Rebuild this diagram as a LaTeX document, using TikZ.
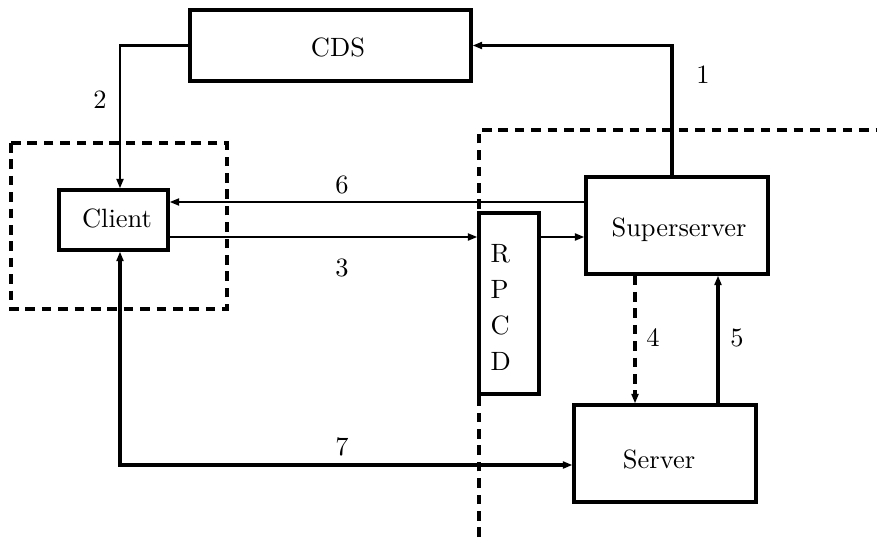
\documentclass[tikz,border=0pt]{standalone}
\usetikzlibrary{arrows.meta,fit}
\begin{document}
\begin{tikzpicture}[x=0.378pt,y=-0.378pt,
  box/.style={draw,line width=1.2pt,inner sep=0pt},
  thinline/.style={line width=0.85pt},
  thickline/.style={line width=1.25pt},
  tip/.style={-{Triangle[length=3.6pt,width=2.6pt]}},
  bothtips/.style={{Triangle[length=3.6pt,width=2.6pt]}-{Triangle[length=3.6pt,width=2.6pt]}},
  bound/.style={line width=1.2pt,dash pattern=on 3.6pt off 2.6pt},
  lbl/.style={inner sep=0pt}]
\useasboundingbox (0,0) rectangle (877,537);
% boxes
\node[box,fit={(190,10) (471,81)}] (cds) {};
\node[lbl] (cdst) at (338,47) {CDS};
\node[box,fit={(59,190) (168,250)}] (client) {};
\node[lbl] (clientt) at (117,218) {Client};
\node[box,fit={(479,213) (539,394)}] (rpcd) {};
\node[lbl,anchor=base west] (r1) at (490,262) {R};
\node[lbl,anchor=base west] (r2) at (490,298) {P};
\node[lbl,anchor=base west] (r3) at (490,334) {C};
\node[lbl,anchor=base west] (r4) at (490,370) {D};
\node[box,fit={(586,177) (768,274)}] (ss) {};
\node[lbl] (sst) at (679,230) {Superserver};
\node[box,fit={(574,405) (756,502)}] (server) {};
\node[lbl] (servert) at (659,459) {Server};
% helper coordinates
\coordinate (x1) at (672,0);
\coordinate (x2) at (120,0);
\coordinate (x4) at (635,0);
\coordinate (x5) at (718,0);
\coordinate (y6) at (0,202);
\coordinate (y3) at (0,237);
\coordinate (y7) at (0,465);
% boundaries
\draw[bound] (11,143) rectangle (227,309);
\draw[bound] (479,537) -- (479,130) -- (877,130);
% connectors
\draw[thickline,tip] (ss.north -| x1) |- (cds.east);
\draw[thinline,tip] (cds.west) -| (x2 |- client.north);
\draw[thinline,tip] (ss.west |- y6) -- (client.east |- y6);
\draw[thinline,tip] (client.east |- y3) -- (rpcd.west |- y3);
\draw[thinline,tip] (rpcd.east |- y3) -- (ss.west |- y3);
\draw[thickline,tip,dash pattern=on 3.6pt off 2.6pt] (x4 |- ss.south) -- (x4 |- server.north);
\draw[thickline,tip] (x5 |- server.north) -- (x5 |- ss.south);
\draw[thickline,bothtips] (x2 |- client.south) |- (server.west |- y7);
% labels
\node[lbl] (l1) at (703,75) {1};
\node[lbl] (l2) at (100,100) {2};
\node[lbl] (l6) at (342,185) {6};
\node[lbl] (l3) at (342,268) {3};
\node[lbl] (l4) at (653,338) {4};
\node[lbl] (l5) at (737,338) {5};
\node[lbl] (l7) at (342,447) {7};
\end{tikzpicture}
\end{document}
